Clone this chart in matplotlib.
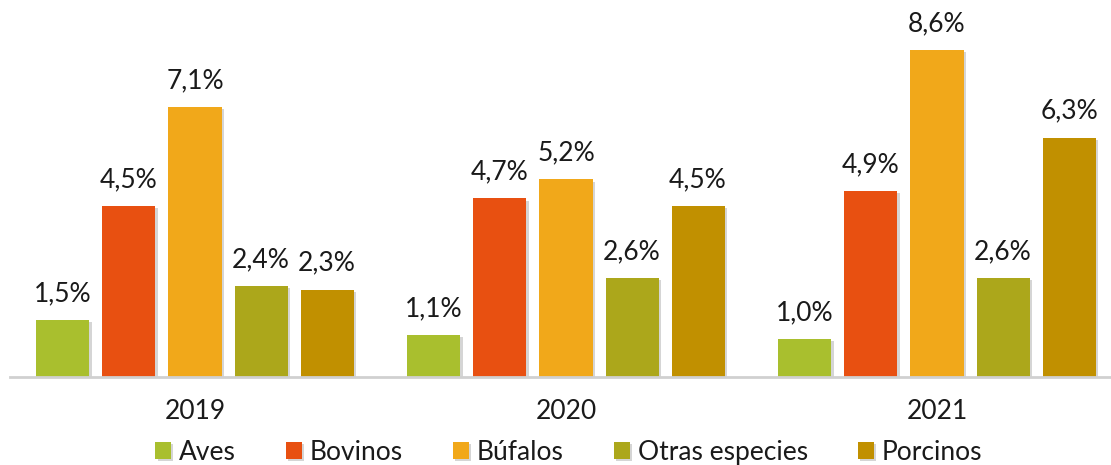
import matplotlib.pyplot as plt
import matplotlib.patheffects as pe
import numpy as np

years = ["2019", "2020", "2021"]
species = ["Aves", "Bovinos", "Búfalos", "Otras especies", "Porcinos"]
aves = [1.5, 1.1, 1.0]
bovinos = [4.5, 4.7, 4.9]
bufalos = [7.1, 5.2, 8.6]
otras = [2.4, 2.6, 2.6]
porcinos = [2.3, 4.5, 6.3]
colors = ["#A9BF2E", "#E85011", "#F1A81A", "#ACA71B", "#C19000"]

series = [aves, bovinos, bufalos, otras, porcinos]

plt.rcParams['font.family'] = ['Lato', 'DejaVu Sans']
txt_color = "#1A1A1A"

fig = plt.figure(figsize=(11.11, 4.65), dpi=100)
ax = fig.add_axes([0.0, 0.189, 1.0, 0.811])

x = np.arange(len(years))
step = 0.178
width = 0.143
shadow = [pe.SimplePatchShadow(offset=(1.5, -1.5), shadow_rgbFace='#888888', alpha=0.35), pe.Normal()]

for i, (name, vals, c) in enumerate(zip(species, series, colors)):
    pos = x + (i - 2) * step
    bars = ax.bar(pos, vals, width, color=c, label=name, zorder=2)
    for b in bars:
        b.set_path_effects(shadow)
    for p, v in zip(pos, vals):
        ax.annotate(f"{v:.1f}%".replace(".", ","), (p, v), xytext=(0, 10),
                    textcoords="offset points", ha="center", va="bottom",
                    fontsize=19, color=txt_color)

ax.set_xlim(-195 / 371, (1111 - 195) / 371)
ax.set_ylim(0, 377 / 38.0)
for s in ["top", "right", "left"]:
    ax.spines[s].set_visible(False)
ax.spines["bottom"].set_color("#D0D0D0")
ax.spines["bottom"].set_linewidth(2)
ax.spines["bottom"].set_bounds(-0.499, 2.47)
ax.set_yticks([])
ax.set_xticks(x)
ax.set_xticklabels(years, fontsize=19, color=txt_color)
ax.tick_params(axis="x", length=0, pad=16)

fig.legend(loc="lower center", ncol=5, frameon=False,
           prop={"size": 19},
           bbox_to_anchor=(0.512, -0.05), handlelength=0.6, handleheight=0.6,
           handletextpad=0.3, columnspacing=1.9, labelcolor=txt_color)

fig.savefig("out.png", dpi=100)
